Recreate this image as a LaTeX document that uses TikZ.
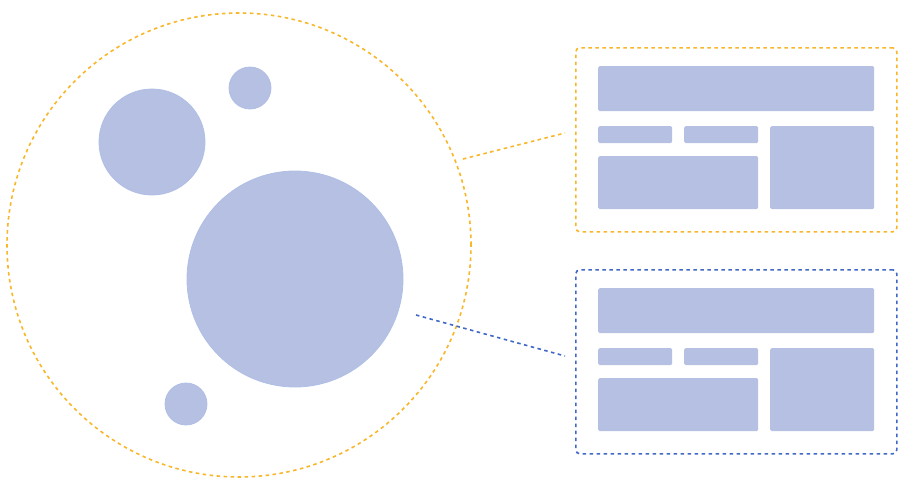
\documentclass[tikz,border=0pt]{standalone}
\definecolor{blobfill}{HTML}{B6C0E2}
\definecolor{blobedge}{HTML}{AFBFE6}
\definecolor{ringorange}{HTML}{F8B628}
\definecolor{ringblue}{HTML}{4068C6}
\begin{document}
\begin{tikzpicture}[
			x=1pt,y=-1pt,
			blob/.style={circle,fill=blobfill,draw=blobedge,line width=0.8pt,inner sep=0pt},
			tile/.style={rectangle,fill=blobfill,rounded corners=1.5pt,inner sep=0pt,anchor=north west},
			dotline/.style={line width=1.6pt,dash pattern=on 3.5pt off 3.5pt},
			panel/.style={rectangle,rounded corners=4pt,dotline,inner sep=0pt,anchor=north west,
					minimum width=321pt,minimum height=184pt}
		]
		\useasboundingbox (0,0) rectangle (906,490);
		% the cluster
		\node[circle,draw=ringorange,dotline,inner sep=0pt,minimum size=464pt] (ring) at (239,245) {};
		\node[blob,minimum size=106pt] (blobA) at (152,142) {};
		\node[blob,minimum size=42pt] (blobB) at (250,88) {};
		\node[blob,minimum size=216pt] (blobC) at (295,279) {};
		\node[blob,minimum size=42pt] (blobD) at (186,404) {};
		% the two panels
		\node[panel,draw=ringorange] (panelA) at (575,47) {};
		\node[panel,draw=ringblue] (panelB) at (575,269) {};
		\foreach \p/\dy in {A/0,B/222} {
				\node[tile,minimum width=276pt,minimum height=45pt] (\p-top) at (598,66+\dy) {};
				\node[tile,minimum width=74pt,minimum height=17pt] (\p-left) at (598,126+\dy) {};
				\node[tile,minimum width=74pt,minimum height=17pt] (\p-mid) at (684,126+\dy) {};
				\node[tile,minimum width=160pt,minimum height=53pt] (\p-wide) at (598,156+\dy) {};
				\node[tile,minimum width=104pt,minimum height=83pt] (\p-side) at (770,126+\dy) {};
			}
		% connectors
		\coordinate (ringout) at (463,159);
		\coordinate (panelAin) at (565,133);
		\coordinate (blobout) at (416,315);
		\coordinate (panelBin) at (565,356);
		\draw[ringorange,dotline] (ringout) -- (panelAin);
		\draw[ringblue,dotline] (blobout) -- (panelBin);
	\end{tikzpicture}
\end{document}
